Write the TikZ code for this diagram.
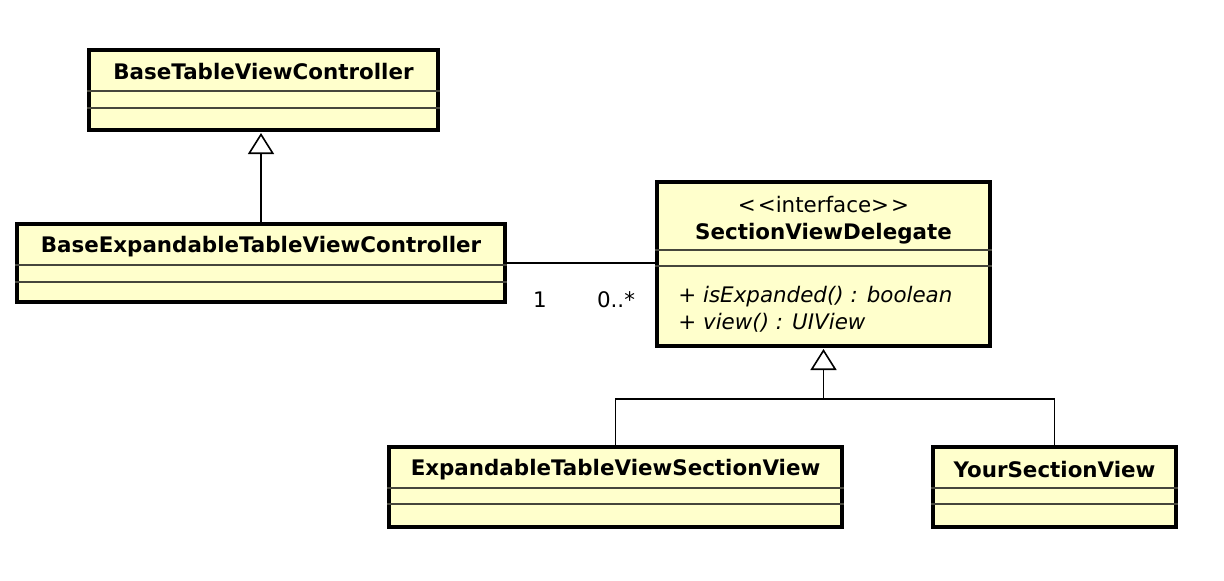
\documentclass[tikz,border=0pt]{standalone}
\usepackage{fontspec}
\setmainfont{DejaVu Sans}
\usetikzlibrary{calc}
\usetikzlibrary{arrows.meta}

\definecolor{classfill}{RGB}{255,255,204}
\definecolor{sepgray}{RGB}{70,70,60}
\newcommand{\umlsize}{\fontsize{10.7}{13}\selectfont}

\tikzset{
  classbox/.style={draw=black, line width=2pt, fill=classfill, inner sep=0pt},
  classname/.style={font=\umlsize\bfseries},
  stereo/.style={font=\umlsize},
  member/.style={font=\umlsize\itshape, anchor=west, inner sep=0pt},
  sepline/.style={draw=sepgray, line width=1pt},
  assoc/.style={line width=0.8pt},
  inherit/.style={-{Triangle[open,length=10.5pt,width=13pt]}, line width=0.8pt, shorten >=0.5pt},
  mult/.style={font=\umlsize}
}

\begin{document}
\begin{tikzpicture}[x=0.5pt,y=-0.5pt]

\useasboundingbox (0,0) rectangle (1224,580);

% classes
\node[classbox, minimum width=174.5pt, minimum height=40pt] (base) at (263.5,90) {};
\node[classbox, minimum width=244pt, minimum height=39pt] (expbase) at (261,263) {};
\node[classbox, minimum width=166.5pt, minimum height=82pt] (delegate) at (823.5,264) {};
\node[classbox, minimum width=226.5pt, minimum height=40pt] (secview) at (615.5,486.5) {};
\node[classbox, minimum width=121.5pt, minimum height=40pt] (yourview) at (1054.5,486.5) {};

% names
\node[classname] at ($(base.north)+(0,24)$) {BaseTableViewController};
\node[classname] at ($(expbase.north)+(0,25)$) {BaseExpandableTableViewController};
\node[stereo] at ($(delegate.north)+(0,25)$) {\textless\kern1pt\textless interface\textgreater\kern1pt\textgreater};
\node[classname] at ($(delegate.north)+(0,54)$) {SectionViewDelegate};
\node[classname] at ($(secview.north)+(0,25)$) {ExpandableTableViewSectionView};
\node[classname] at ($(yourview.north)+(0,25)$) {YourSectionView};

% compartments
\foreach \c/\a/\b in {base/43/60, expbase/43/60, secview/43/59, yourview/43/59, delegate/70/86} {
  \draw[sepline] ($(\c.north west)+(0,\a)$) -- ($(\c.north east)+(0,\a)$);
  \draw[sepline] ($(\c.north west)+(0,\b)$) -- ($(\c.north east)+(0,\b)$);
}

% operations
\node[member] at ($(delegate.north west)+(23,117)$) {+ isExpanded() : boolean};
\node[member] at ($(delegate.north west)+(23,143)$) {+ view() : UIView};

% generalization
\draw[inherit] (expbase.north) -- (expbase.north |- base.south);

% association
\draw[assoc] (expbase.east) -- (expbase.east -| delegate.west);
\node[mult] at ($(expbase.east)+(33,37)$) {1};
\node[mult] at ($(expbase.east)+(109,37)$) {0..*};

% realization tree
\coordinate (joint) at ($(delegate.south)+(0,51)$);
\draw[assoc] (secview.north) |- (joint) -| (yourview.north);
\draw[inherit] (joint) -- (delegate.south);

\end{tikzpicture}
\end{document}
